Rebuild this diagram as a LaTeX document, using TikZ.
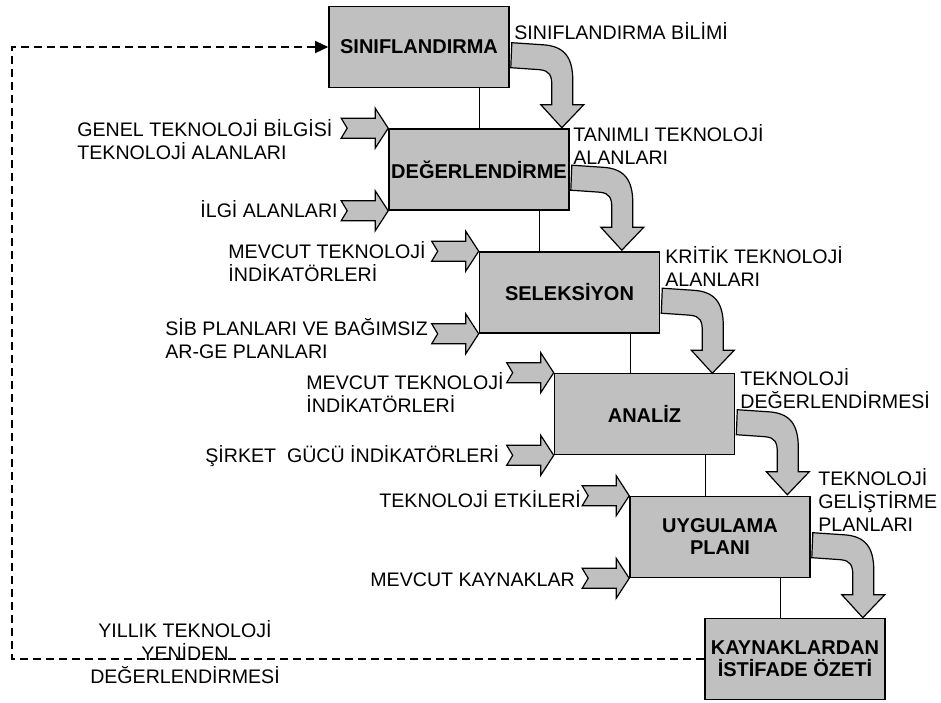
\documentclass[tikz,border=0pt]{standalone}
\usepackage{fontspec}
\setmainfont{Liberation Sans}
\usepackage{tikz}
\usetikzlibrary{arrows.meta,calc,positioning}
\definecolor{boxgray}{RGB}{192,192,192}
\tikzset{
  box/.style={draw, line width=0.8pt, fill=boxgray, minimum width=90pt,
    minimum height=40.5pt, inner sep=0pt, align=center,
    font=\bfseries\fontsize{10}{11}\selectfont},
  lbl/.style={inner sep=0pt, font=\fontsize{9.8}{11.5}\selectfont},
  link/.style={line width=0.6pt},
  blockarrow/.style={draw, fill=boxgray, line width=0.6pt, line join=miter},
  loopline/.style={line width=0.65pt, dash pattern=on 4pt off 2.5pt,
    -{Triangle[length=6.5pt,width=6pt]}},
  inarrow/.pic={
    \draw[blockarrow] (0,0) -- (-13,-20) -- (-13,-10) -- (-47,-10) -- (-41,0)
      -- (-47,10) -- (-13,10) -- (-13,20) -- cycle;
  },
  bendarrow/.pic={
    \draw[blockarrow] (2,37) -- (32,39) .. controls (55,40) and (63,52) .. (63,75)
      -- (63,99) -- (74,99) -- (52,122) -- (31,99) -- (42,99) -- (42,80)
      .. controls (42,70) and (40,65) .. (30,64) -- (1,62) -- cycle;
  }
}

\begin{document}
\begin{tikzpicture}[x=0.5pt,y=-0.5pt]
  \useasboundingbox (0,0) rectangle (941,702);
  % Steps of the process
  \node[box] (sin) at (419,47) {SINIFLANDIRMA};
  \node[box] (deg) at (479,169.5) {DEĞERLENDİRME};
  \node[box] (sel) at (569.5,292.5) {SELEKSİYON};
  \node[box] (ana) at (644.5,414) {ANALİZ};
  \node[box] (uyg) at (720,537) {UYGULAMA\\PLANI};
  \node[box] (kay) at (795,659) {KAYNAKLARDAN\\İSTİFADE ÖZETİ};
  % Thin links between the steps
  \coordinate (c1) at ([xshift=-15pt]sin.south east);
  \coordinate (c2) at ([xshift=-15pt]deg.south east);
  \coordinate (c3) at ([xshift=-15pt]sel.south east);
  \coordinate (c4) at ([xshift=-15pt]ana.south east);
  \coordinate (c5) at ([xshift=-15pt]uyg.south east);
  \draw[link] (c1) -- (c1 |- deg.north);
  \draw[link] (c2) -- (c2 |- sel.north);
  \draw[link] (c3) -- (c3 |- ana.north);
  \draw[link] (c4) -- (c4 |- uyg.north);
  \draw[link] (c5) -- (c5 |- kay.north);
  % Outputs, bent down to the next step
  \pic at (sin.north east) {bendarrow};
  \pic at (deg.north east) {bendarrow};
  \pic at (sel.north east) {bendarrow};
  \pic at (ana.north east) {bendarrow};
  \pic at (uyg.north east) {bendarrow};
  % Inputs from the left
  \pic at (deg.north west) {inarrow};
  \pic at (deg.south west) {inarrow};
  \pic at (sel.north west) {inarrow};
  \pic at (sel.south west) {inarrow};
  \pic at (ana.north west) {inarrow};
  \pic at (ana.south west) {inarrow};
  \pic at (uyg.north west) {inarrow};
  \pic at (uyg.south west) {inarrow};
  % Yearly loop back
  \coordinate (turn) at (12,47);
  \draw[loopline] (kay.west) -| (turn) -- (sin.west);
  % Labels of the outputs
  \node[lbl, anchor=west] (o1) at (514,31) {SINIFLANDIRMA BİLİMİ};
  \node[lbl, anchor=west, align=left] (o2) at (573,144) {TANIMLI TEKNOLOJİ\\ALANLARI};
  \node[lbl, anchor=west, align=left] (o3) at (665,266) {KRİTİK TEKNOLOJİ\\ALANLARI};
  \node[lbl, anchor=west, align=left] (o4) at (740,389) {TEKNOLOJİ\\DEĞERLENDİRMESİ};
  \node[lbl, anchor=west, align=left] (o5) at (818,500) {TEKNOLOJİ\\GELİŞTİRME\\PLANLARI};
  % Labels of the inputs
  \node[lbl, anchor=west, align=left] (i1) at (77,140) {GENEL TEKNOLOJİ BİLGİSİ\\TEKNOLOJİ ALANLARI};
  \node[lbl, anchor=west] (i2) at (200,209) {İLGİ ALANLARI};
  \node[lbl, anchor=west, align=left] (i3) at (228,262) {MEVCUT TEKNOLOJİ\\İNDİKATÖRLERİ};
  \node[lbl, anchor=west, align=left] (i4) at (165,339) {SİB PLANLARI VE BAĞIMSIZ\\AR-GE PLANLARI};
  \node[lbl, anchor=west, align=left] (i5) at (306,393) {MEVCUT TEKNOLOJİ\\İNDİKATÖRLERİ};
  \node[lbl, anchor=west] (i6) at (205,456) {ŞİRKET\ \ GÜCÜ İNDİKATÖRLERİ};
  \node[lbl, anchor=west] (i7) at (379,499) {TEKNOLOJİ ETKİLERİ};
  \node[lbl, anchor=west] (i8) at (370,580) {MEVCUT KAYNAKLAR};
  \node[lbl, align=center] (yil) at (185,652) {YILLIK TEKNOLOJİ\\YENİDEN\\DEĞERLENDİRMESİ};
\end{tikzpicture}
\end{document}
